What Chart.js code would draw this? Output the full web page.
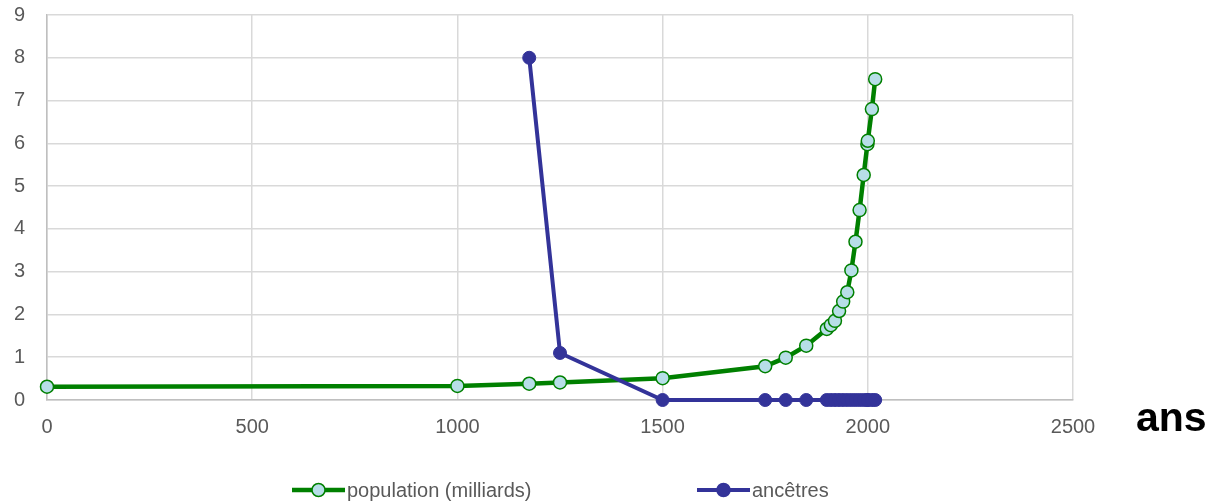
<!DOCTYPE html>
<html lang="fr">
<head>
<meta charset="utf-8">
<script src="https://cdn.jsdelivr.net/npm/chart.js@4/dist/chart.umd.min.js"></script>
<style>
  html, body { margin: 0; padding: 0; background: #ffffff; }
  #wrap { width: 1221px; height: 503px; position: relative; }
</style>
</head>
<body>
<div id="wrap"><canvas id="c" width="1221" height="503"></canvas></div>
<script>
// World population (billions) by year
const popYears = [0, 1000, 1175, 1250, 1500, 1750, 1800, 1850, 1900, 1910, 1920, 1930, 1940, 1950, 1960, 1970, 1980, 1990, 1999, 2000, 2010, 2018];
const popValues = [0.31, 0.33, 0.38, 0.41, 0.51, 0.79, 0.99, 1.27, 1.66, 1.75, 1.85, 2.08, 2.30, 2.52, 3.03, 3.70, 4.44, 5.26, 5.98, 6.06, 6.80, 7.50];

// Number of ancestors (billions) going back in time
const ancYears = [1175, 1250, 1500, 1750, 1800, 1850, 1900, 1910, 1920, 1930, 1940, 1950, 1960, 1970, 1980, 1990, 1999, 2000, 2010, 2018];
const ancValues = [8, 1.1, 0, 0, 0, 0, 0, 0, 0, 0, 0, 0, 0, 0, 0, 0, 0, 0, 0, 0];

const xTicks = [0, 500, 1000, 1500, 2000, 2500];
const yTicks = [0, 1, 2, 3, 4, 5, 6, 7, 8, 9];

const labelPop = 'population (milliards)';
const labelAnc = 'ancêtres';
const axisTitle = 'ans';

const GREEN = '#008000';
const GREEN_FILL = '#b7dee8';
const NAVY = '#333399';
const FONT = '"Liberation Sans", Arial, sans-serif';

const toPoints = (xs, ys) => xs.map((x, i) => ({ x, y: ys[i] }));

// Bold axis caption to the right of the plot, plus a line+marker legend below
const extras = {
  id: 'extras',
  afterDraw(chart) {
    const { ctx, chartArea } = chart;
    ctx.save();
    ctx.fillStyle = '#000000';
    ctx.font = 'bold 41px ' + FONT;
    ctx.textBaseline = 'middle';
    ctx.textAlign = 'left';
    ctx.fillText(axisTitle, chartArea.right + 63, chartArea.bottom + 20);

    ctx.font = '20px ' + FONT;
    const items = [
      { text: labelPop, color: GREEN, fill: GREEN_FILL, x: 292, w: 4.5 },
      { text: labelAnc, color: NAVY, fill: NAVY, x: 697, w: 4 }
    ];
    const y = 490;
    items.forEach(it => {
      ctx.strokeStyle = it.color;
      ctx.lineWidth = it.w;
      ctx.beginPath();
      ctx.moveTo(it.x, y);
      ctx.lineTo(it.x + 53, y);
      ctx.stroke();
      ctx.beginPath();
      ctx.arc(it.x + 26.5, y, 6.5, 0, Math.PI * 2);
      ctx.fillStyle = it.fill;
      ctx.fill();
      ctx.lineWidth = 1.5;
      ctx.stroke();
      ctx.fillStyle = '#595959';
      ctx.textAlign = 'left';
      ctx.fillText(it.text, it.x + 55, y + 1);
    });
    ctx.restore();
  }
};

new Chart(document.getElementById('c'), {
  type: 'line',
  data: {
    datasets: [
      {
        label: labelPop,
        data: toPoints(popYears, popValues),
        borderColor: GREEN,
        borderWidth: 4.5,
        backgroundColor: GREEN_FILL,
        pointBackgroundColor: GREEN_FILL,
        pointBorderColor: GREEN,
        pointBorderWidth: 1.5,
        pointRadius: 6.5,
        tension: 0,
        clip: false,
        order: 1
      },
      {
        label: labelAnc,
        data: toPoints(ancYears, ancValues),
        borderColor: NAVY,
        borderWidth: 4,
        backgroundColor: NAVY,
        pointBackgroundColor: NAVY,
        pointBorderColor: NAVY,
        pointBorderWidth: 1,
        pointRadius: 6.5,
        tension: 0,
        clip: false,
        order: 0
      }
    ]
  },
  options: {
    responsive: false,
    animation: false,
    events: [],
    layout: { padding: { top: 15, right: 148, bottom: 0, left: 0 } },
    plugins: { legend: { display: false }, tooltip: { enabled: false } },
    scales: {
      x: {
        type: 'linear',
        min: 0,
        max: 2500,
        afterBuildTicks(scale) { scale.ticks = xTicks.map(v => ({ value: v })); },
        afterFit(scale) { scale.height = 103; },
        grid: { color: '#d9d9d9', lineWidth: 1.5, drawTicks: false },
        border: { color: '#bfbfbf', width: 1.5 },
        ticks: {
          color: '#595959', font: { family: FONT, size: 20 }, padding: 15, maxRotation: 0,
          callback: v => String(v)
        }
      },
      y: {
        min: 0,
        max: 9,
        afterBuildTicks(scale) { scale.ticks = yTicks.map(v => ({ value: v })); },
        afterFit(scale) {
          scale.width = 47;
          scale.paddingTop = 0;
          scale.paddingBottom = 0;
        },
        grid: { color: '#d9d9d9', lineWidth: 1.5, drawTicks: false },
        border: { color: '#bfbfbf', width: 1.5 },
        ticks: { color: '#595959', font: { family: FONT, size: 20 }, padding: 22, callback: v => String(v) }
      }
    }
  },
  plugins: [extras]
});
</script>
</body>
</html>
